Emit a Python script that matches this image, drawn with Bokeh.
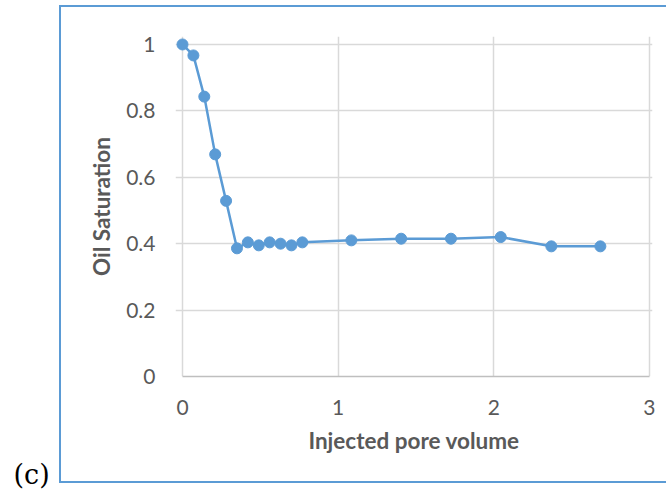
from bokeh.plotting import figure
from bokeh.models import FixedTicker, Title, InlineStyleSheet
from bokeh.embed import file_html
from bokeh.resources import INLINE

injected_pv = [0.0, 0.07, 0.14, 0.21, 0.28, 0.35, 0.42, 0.49, 0.56, 0.63, 0.70, 0.77,
               1.085, 1.405, 1.725, 2.045, 2.37, 2.685]
oil_saturation = [1.0, 0.967, 0.843, 0.669, 0.529, 0.386, 0.404, 0.395, 0.404, 0.400, 0.395, 0.404,
                  0.410, 0.415, 0.415, 0.420, 0.392, 0.392]
x_ticks = [0, 1, 2, 3]
x_tick_labels = ["0", "1", "2", "3"]
y_ticks = [0, 0.2, 0.4, 0.6, 0.8, 1.0]
y_tick_labels = ["0", "0.2", "0.4", "0.6", "0.8", "1"]

BLUE = "#5B9BD5"
GRID = "#D9D9D9"
TEXT = "#595959"
FONT = "Lato"
W, H = 666, 490

p = figure(width=W, height=H, x_range=(-0.045, 3.02), y_range=(0, 1.024),
           output_backend="svg", toolbar_location=None,
           min_border_left=175, min_border_right=14, min_border_top=36, min_border_bottom=114)
p.background_fill_color = "white"
p.border_fill_color = "white"
p.outline_line_color = None

p.line(injected_pv, oil_saturation, line_color=BLUE, line_width=2.5)
p.scatter(injected_pv, oil_saturation, size=11, fill_color=BLUE, line_color=BLUE)

p.xaxis.ticker = FixedTicker(ticks=x_ticks)
p.yaxis.ticker = FixedTicker(ticks=y_ticks)
p.xaxis.major_label_overrides = {t: l for t, l in zip(x_ticks, x_tick_labels)}
p.yaxis.major_label_overrides = {t: l for t, l in zip(y_ticks, y_tick_labels)}
p.xaxis.bounds = (0, 3)

for ax in (p.xaxis, p.yaxis):
    ax.axis_line_color = "#BFBFBF"
    ax.axis_line_width = 1.5
    ax.major_tick_line_color = None
    ax.minor_tick_line_color = None
    ax.major_label_text_font = FONT
    ax.major_label_text_font_size = "21px"
    ax.major_label_text_color = TEXT
    ax.axis_label_text_font = FONT
    ax.axis_label_text_font_style = "bold"
    ax.axis_label_text_font_size = "22.5px"
    ax.axis_label_text_color = TEXT
p.yaxis.axis_line_color = None

p.xaxis.axis_label = "Injected pore volume"
p.yaxis.axis_label = "Oil Saturation"
p.xaxis.major_label_standoff = 17
p.yaxis.major_label_standoff = 14
p.xaxis.axis_label_standoff = 9
p.yaxis.axis_label_standoff = 8

p.xgrid.grid_line_color = GRID
p.ygrid.grid_line_color = GRID
p.xgrid.grid_line_width = 1.5
p.ygrid.grid_line_width = 1.5
p.xgrid.bounds = (0, 1)
p.ygrid.bounds = (0, 3)

panel = Title(text="(c)", align="left", offset=-162, standoff=0,
              text_font="DejaVu Serif", text_font_size="27px", text_color="#000000",
              text_font_style="normal")
p.add_layout(panel, "below")

p.stylesheets = [InlineStyleSheet(css="""
:host { position: relative; }
:host::after {
  content: '';
  position: absolute;
  left: 59px; top: 5px; width: 607px; height: 478px;
  border: 2px solid #5B9BD5; border-right: none;
  box-sizing: border-box; pointer-events: none;
}
""")]

open("out.html", "w").write(file_html(p, INLINE))
